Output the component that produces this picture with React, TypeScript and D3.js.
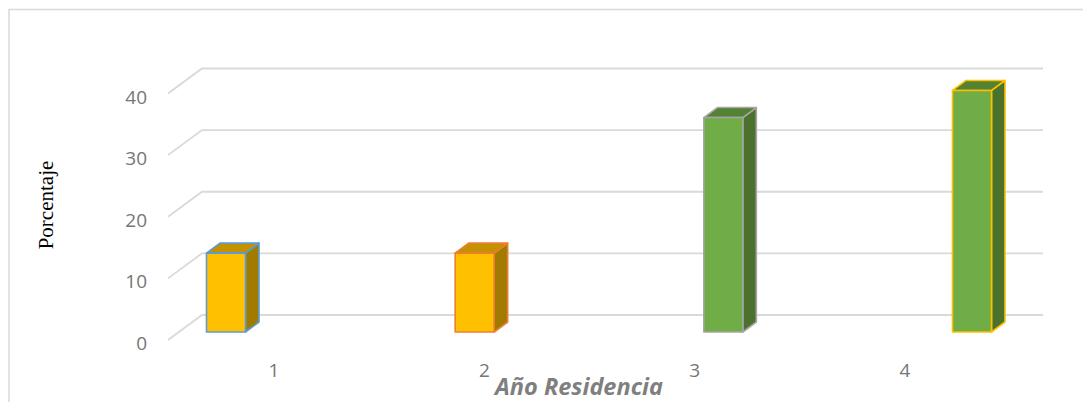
import React from "react";
import * as d3 from "d3";

const categories = ["1", "2", "3", "4"];
const values = [12.8, 12.8, 34.8, 39.2];
const yTicks = [0, 10, 20, 30, 40];
const frontColors = ["#FFC000", "#FFC000", "#70AD47", "#70AD47"];
const topColors = ["#C49200", "#C49200", "#548235", "#548235"];
const sideColors = ["#A07B00", "#A07B00", "#4A722C", "#4A722C"];
const strokeColors = ["#5B9BD5", "#ED7D31", "#A5A5A5", "#FFC000"];
const yTitle = "Porcentaje";
const xTitle = "Año Residencia";

export default function App() {
  const W = 1083;
  const H = 402;
  const backLeft = 202;
  const backRight = 1043;
  const sideDx = 34;
  const sideDy = 25;

  const yBack = d3.scaleLinear().domain([0, 40]).range([315, 68.5]);
  const yFront = (v: number) => yBack(v) + sideDy;
  const yBar = d3.scaleLinear().domain([0, 40]).range([332, 332 - (315 - 68.5)]);
  const xBar = d3.scalePoint<string>().domain(categories).range([226, 972]);
  const xLabel = d3.scalePoint<string>().domain(categories).range([274, 905]);
  const barW = 39;
  const dDx = 13.5;
  const dDy = 10;

  const font = "'Open Sans', 'Liberation Sans', sans-serif";

  return (
    <svg
      width={W}
      height={H}
      style={{ position: "absolute", left: 0, top: 0, background: "#fff" }}
    >
      <rect x={9} y={9.5} width={W} height={H} fill="#fff" stroke="#D9D9D9" strokeWidth={1.5} />
      {yTicks.map((t) => (
        <g key={t}>
          <polyline
            points={`${backLeft - sideDx},${yFront(t)} ${backLeft},${yBack(t)} ${backRight},${yBack(t)}`}
            fill="none"
            stroke="#D9D9D9"
            strokeWidth={1.8}
          />
          <text
            x={147}
            y={yFront(t) + 3}
            textAnchor="end"
            dominantBaseline="central"
            fontFamily={font}
            fontSize={19}
            fill="#767676"
          >
            {t}
          </text>
        </g>
      ))}
      {categories.map((c, i) => {
        const cx = xBar(c)!;
        const x0 = cx - barW / 2;
        const x1 = cx + barW / 2;
        const yT = yBar(values[i]);
        const yB = yBar(0);
        return (
          <g key={c} strokeWidth={1.6} stroke={strokeColors[i]} strokeLinejoin="round">
            <polygon
              points={`${x1},${yT} ${x1 + dDx},${yT - dDy} ${x1 + dDx},${yB - dDy} ${x1},${yB}`}
              fill={sideColors[i]}
            />
            <polygon
              points={`${x0},${yT} ${x0 + dDx},${yT - dDy} ${x1 + dDx},${yT - dDy} ${x1},${yT}`}
              fill={topColors[i]}
            />
            <rect x={x0} y={yT} width={barW} height={yB - yT} fill={frontColors[i]} />
          </g>
        );
      })}
      {categories.map((c) => (
        <text
          key={c}
          x={xLabel(c)!}
          y={370}
          textAnchor="middle"
          dominantBaseline="central"
          fontFamily={font}
          fontSize={19}
          fill="#767676"
        >
          {c}
        </text>
      ))}
      <text
        x={579}
        y={395}
        textAnchor="middle"
        fontFamily={font}
        fontSize={23.5}
        fontWeight="bold"
        fontStyle="italic"
        fill="#7F7F7F"
      >
        {xTitle}
      </text>
      <text
        transform="translate(46,205) rotate(-90)"
        textAnchor="middle"
        dominantBaseline="central"
        fontFamily="'Liberation Serif', 'Times New Roman', serif"
        fontSize={21}
        fill="#000"
      >
        {yTitle}
      </text>
    </svg>
  );
}
